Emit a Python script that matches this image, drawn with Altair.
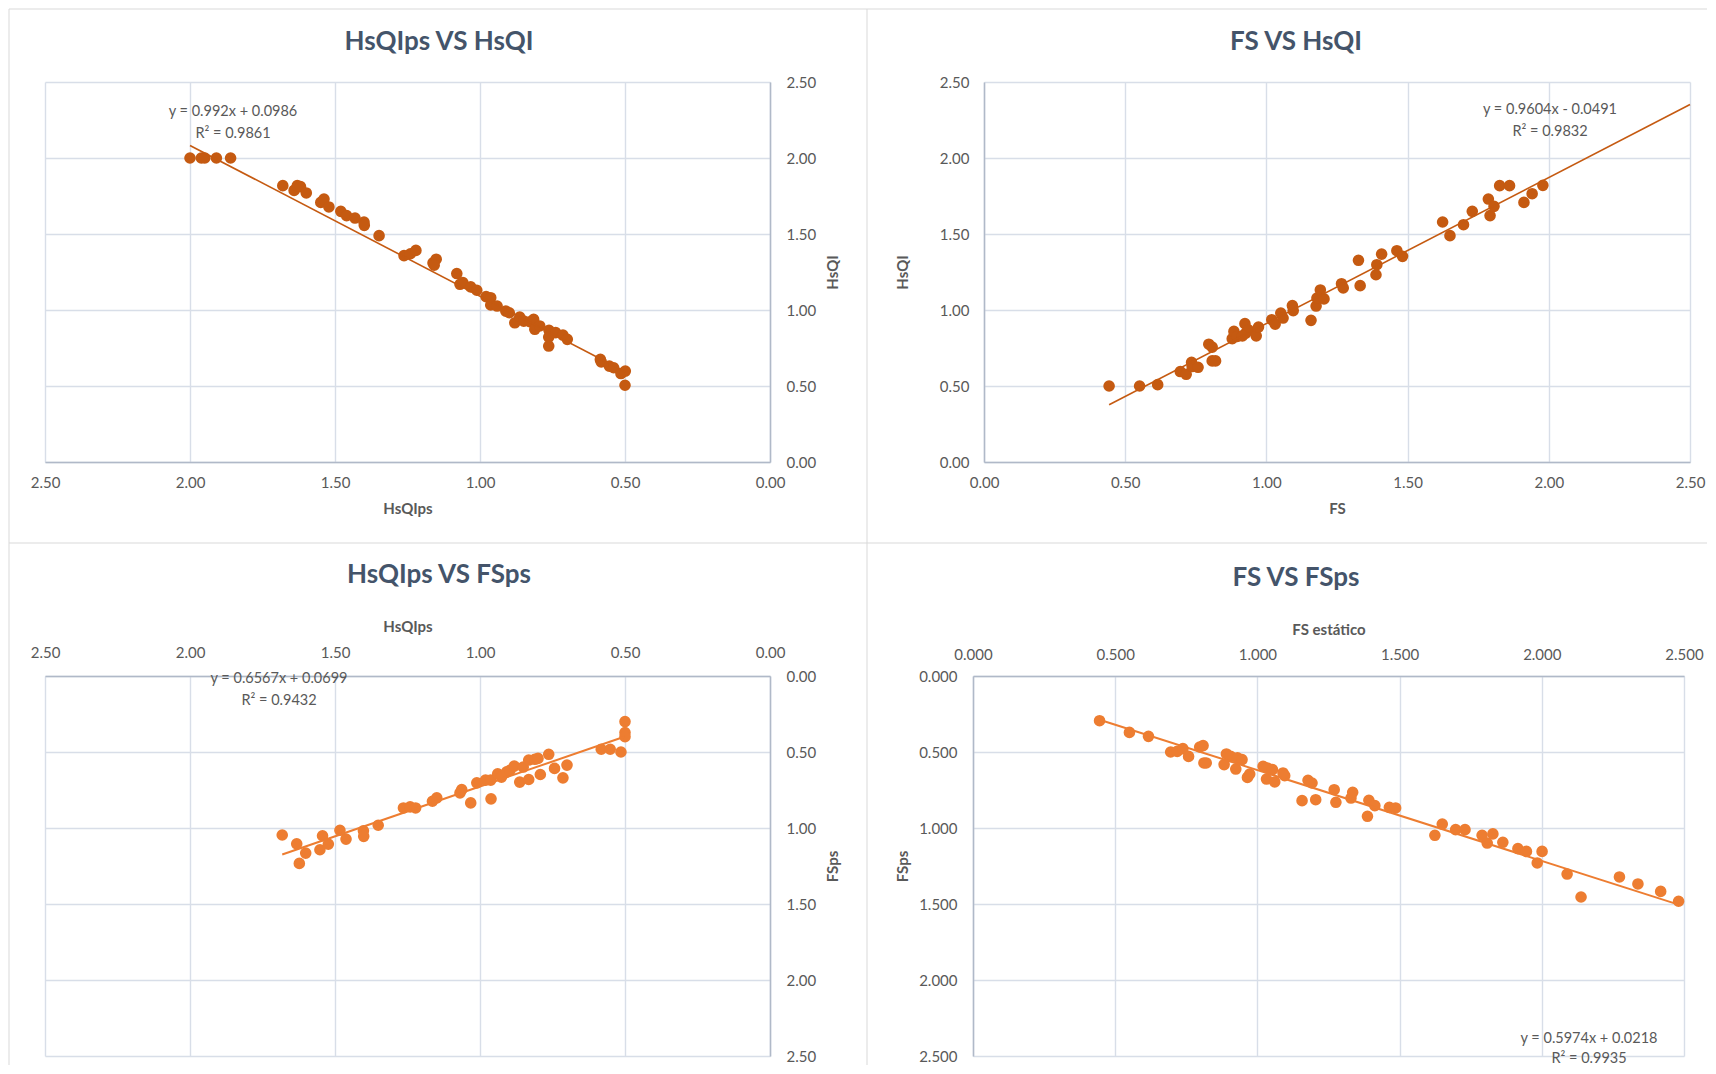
import altair as alt
import pandas as pd

FONT = "Lato"
TICKS = [0.0, 0.5, 1.0, 1.5, 2.0, 2.5]

titles = ["HsQIps VS HsQI", "FS VS HsQI", "HsQIps VS FSps", "FS VS FSps"]
x_titles = ["HsQIps", "FS", "HsQIps", "FS estático"]
y_titles = ["HsQI", "HsQI", "FSps", "FSps"]
slopes = [0.992, 0.9604, 0.6567, 0.5974]
intercepts = [0.0986, -0.0491, 0.0699, 0.0218]
eq_lines = [
    ["y = 0.992x + 0.0986", "R² = 0.9861"],
    ["y = 0.9604x - 0.0491", "R² = 0.9832"],
    ["y = 0.6567x + 0.0699", "R² = 0.9432"],
    ["y = 0.5974x + 0.0218", "R² = 0.9935"],
]
trend_x = [[0.499, 2.0], [0.443, 2.5], [0.5, 1.682], [0.445, 2.481]]

# Panel 1: HsQIps (x) vs HsQI (y)
p1_x = [2.000, 1.961, 1.949, 1.909, 1.860, 1.680, 1.641, 1.630, 1.619, 1.599,
        1.549, 1.538, 1.521, 1.480, 1.460, 1.431, 1.400, 1.399, 1.348, 1.262,
        1.240, 1.221, 1.162, 1.151, 1.158, 1.080, 1.069, 1.059, 1.032, 1.011,
        0.979, 0.963, 0.963, 0.941, 0.911, 0.899, 0.880, 0.863, 0.849, 0.828,
        0.815, 0.811, 0.794, 0.762, 0.763, 0.763, 0.739, 0.714, 0.699, 0.585,
        0.582, 0.554, 0.539, 0.514, 0.499, 0.500]
p1_y = [2.000, 2.000, 2.000, 2.000, 2.000, 1.818, 1.787, 1.818, 1.812, 1.770,
        1.708, 1.730, 1.678, 1.649, 1.621, 1.605, 1.579, 1.557, 1.489, 1.358,
        1.370, 1.392, 1.310, 1.334, 1.295, 1.240, 1.169, 1.180, 1.152, 1.130,
        1.088, 1.081, 1.033, 1.026, 0.993, 0.982, 0.916, 0.954, 0.927, 0.923,
        0.938, 0.873, 0.895, 0.866, 0.822, 0.763, 0.851, 0.835, 0.807, 0.675,
        0.659, 0.631, 0.620, 0.582, 0.598, 0.505]

# Panel 2: FS (x) vs HsQI (y)
p2_x = [0.443, 0.551, 0.615, 0.695, 0.716, 0.735, 0.737, 0.758, 0.796, 0.808,
        0.808, 0.820, 0.879, 0.885, 0.897, 0.924, 0.927, 0.936, 0.915, 0.964,
        0.972, 1.019, 1.031, 1.051, 1.059, 1.092, 1.095, 1.158, 1.176, 1.179,
        1.191, 1.204, 1.266, 1.272, 1.326, 1.332, 1.388, 1.391, 1.408, 1.462,
        1.482, 1.624, 1.650, 1.698, 1.729, 1.786, 1.792, 1.806, 1.826, 1.861,
        1.912, 1.941, 1.979]
p2_y = [0.500, 0.500, 0.509, 0.595, 0.577, 0.656, 0.628, 0.623, 0.775, 0.756,
        0.665, 0.665, 0.811, 0.859, 0.826, 0.910, 0.848, 0.870, 0.830, 0.830,
        0.888, 0.936, 0.907, 0.980, 0.947, 1.029, 0.996, 0.932, 1.026, 1.079,
        1.132, 1.073, 1.173, 1.145, 1.327, 1.160, 1.232, 1.298, 1.368, 1.390,
        1.353, 1.579, 1.489, 1.561, 1.649, 1.730, 1.621, 1.682, 1.818, 1.818,
        1.708, 1.765, 1.820]

# Panel 3: HsQIps (x) vs FSps (y)
p3_x = [1.682, 1.632, 1.601, 1.623, 1.552, 1.543, 1.523, 1.483, 1.462, 1.402,
        1.401, 1.351, 1.264, 1.241, 1.222, 1.164, 1.149, 1.069, 1.063, 1.032,
        1.011, 0.981, 0.963, 0.962, 0.939, 0.926, 0.908, 0.897, 0.882, 0.863,
        0.851, 0.832, 0.832, 0.811, 0.800, 0.792, 0.763, 0.743, 0.714, 0.700,
        0.582, 0.551, 0.514, 0.500, 0.500, 0.500]
p3_y = [1.046, 1.104, 1.165, 1.233, 1.143, 1.051, 1.106, 1.015, 1.073, 1.018,
        1.055, 0.982, 0.868, 0.861, 0.868, 0.824, 0.802, 0.769, 0.747, 0.835,
        0.703, 0.685, 0.685, 0.808, 0.643, 0.665, 0.630, 0.621, 0.593, 0.698,
        0.599, 0.553, 0.681, 0.548, 0.542, 0.648, 0.515, 0.608, 0.670, 0.586,
        0.482, 0.482, 0.500, 0.300, 0.372, 0.399]

# Panel 4: FS estático (x) vs FSps (y)
p4_x = [0.445, 0.550, 0.617, 0.695, 0.718, 0.738, 0.758, 0.797, 0.809, 0.812,
        0.820, 0.883, 0.891, 0.906, 0.924, 0.930, 0.946, 0.965, 0.973, 1.020,
        1.032, 1.035, 1.053, 1.061, 1.090, 1.096, 1.157, 1.178, 1.192, 1.205,
        1.270, 1.276, 1.329, 1.335, 1.387, 1.392, 1.413, 1.464, 1.486, 1.624,
        1.650, 1.697, 1.730, 1.790, 1.808, 1.828, 1.863, 1.916, 1.946, 1.984,
        2.001, 2.089, 2.138, 2.273, 2.338, 2.418, 2.481]
p4_y = [0.294, 0.371, 0.397, 0.500, 0.496, 0.478, 0.529, 0.467, 0.458, 0.572,
        0.572, 0.583, 0.513, 0.529, 0.612, 0.539, 0.550, 0.667, 0.645, 0.594,
        0.678, 0.605, 0.616, 0.697, 0.638, 0.656, 0.820, 0.686, 0.704, 0.814,
        0.748, 0.831, 0.803, 0.765, 0.923, 0.818, 0.853, 0.864, 0.868, 1.048,
        0.974, 1.011, 1.011, 1.048, 1.099, 1.039, 1.094, 1.136, 1.154, 1.230,
        1.154, 1.303, 1.454, 1.322, 1.368, 1.417, 1.482]

DATA = [(p1_x, p1_y), (p2_x, p2_y), (p3_x, p3_y), (p4_x, p4_y)]

FRAME = "#D9D9D9"
DARK = "#C55A11"
LIGHT = "#ED7D31"

# styling / placement of each panel (pixels relative to the plot area)
STYLE = [
    dict(w=725, h=380, xrev=True, yrev=False, xorient="bottom", yorient="right", fmt=".2f",
         color=DARK, lw=1.6, title_xy=(394, -32), eq_xy=[(188, 34), (188, 56)],
         xlp=13, xtp=11, ylp=16, ytp=25,
         hrules=[(-36, 1662, -73)], vrules=[(-36, -73, 461), (822, -73, 461)]),
    dict(w=706, h=380, xrev=False, yrev=False, xorient="bottom", yorient="left", fmt=".2f",
         color=DARK, lw=1.6, title_xy=(312, -32), eq_xy=[(566, 32), (566, 54)],
         xlp=13, xtp=11, ylp=15, ytp=29, hrules=[], vrules=[]),
    dict(w=725, h=380, xrev=True, yrev=True, xorient="top", yorient="right", fmt=".2f",
         color=LIGHT, lw=2, title_xy=(394, -93), eq_xy=[(234, 7), (234, 29)],
         xlp=16, xtp=11, ylp=16, ytp=25,
         hrules=[(-36, 1662, -133)], vrules=[(-36, -133, 389), (822, -133, 389)]),
    dict(w=711, h=380, xrev=False, yrev=True, xorient="top", yorient="left", fmt=".3f",
         color=LIGHT, lw=2, title_xy=(323, -90), eq_xy=[(616, 367), (616, 387)],
         xlp=14, xtp=10, ylp=16, ytp=8, hrules=[], vrules=[]),
]


def panel(i):
    st = STYLE[i]
    xs, ys = DATA[i]
    pts = pd.DataFrame({"x": xs, "y": ys})
    xscale = alt.Scale(domain=[0, 2.5], reverse=st["xrev"], nice=False, zero=False)
    yscale = alt.Scale(domain=[0, 2.5], reverse=st["yrev"], nice=False, zero=False)
    xenc = alt.X("x:Q", scale=xscale,
                 axis=alt.Axis(title=x_titles[i], orient=st["xorient"], values=TICKS,
                               format=st["fmt"], labelPadding=st["xlp"],
                               titlePadding=st["xtp"]))
    yenc = alt.Y("y:Q", scale=yscale,
                 axis=alt.Axis(title=y_titles[i], orient=st["yorient"], values=TICKS,
                               format=st["fmt"], labelPadding=st["ylp"],
                               titlePadding=st["ytp"], titleAngle=270))
    layers = []
    layers.append(
        alt.Chart(pts).mark_circle(size=135, opacity=1, color=st["color"]).encode(x=xenc, y=yenc)
    )
    layers.append(
        alt.Chart(pd.DataFrame({"x": trend_x[i]}))
        .transform_calculate(y=f"datum.x * {slopes[i]} + ({intercepts[i]})")
        .mark_line(color=st["color"], strokeWidth=st["lw"])
        .encode(x=xenc, y=yenc)
    )
    one = alt.Data(values=[{}])
    for (ex, ey), txt in zip(st["eq_xy"], eq_lines[i]):
        layers.append(
            alt.Chart(one).mark_text(text=txt, font=FONT, fontSize=14.5, color="#595959",
                                     align="center", baseline="alphabetic")
            .encode(x=alt.value(ex), y=alt.value(ey))
        )
    tx, ty = st["title_xy"]
    layers.append(
        alt.Chart(one).mark_text(text=titles[i], font=FONT, fontSize=26, fontWeight="bold",
                                 color="#44546A", align="center", baseline="alphabetic")
        .encode(x=alt.value(tx), y=alt.value(ty))
    )
    for (a, b, c) in st["hrules"]:
        layers.append(
            alt.Chart(one).mark_rule(color=FRAME, strokeWidth=1)
            .encode(x=alt.value(a), x2=alt.value(b), y=alt.value(c))
        )
    for (a, c, d) in st["vrules"]:
        layers.append(
            alt.Chart(one).mark_rule(color=FRAME, strokeWidth=1)
            .encode(x=alt.value(a), y=alt.value(c), y2=alt.value(d))
        )
    return alt.layer(*layers).properties(width=st["w"], height=st["h"])


top = alt.hconcat(panel(0), panel(1), spacing=214, bounds="flush")
bottom = alt.hconcat(panel(2), panel(3), spacing=203, bounds="flush")

chart = (
    alt.vconcat(top, bottom, spacing=-2)
    .properties(padding=0, background="white")
    .configure_view(stroke=None)
    .configure_axis(
        labelFont=FONT, labelFontSize=15, labelColor="#595959",
        titleFont=FONT, titleFontSize=15, titleFontWeight="bold", titleColor="#595959",
        gridColor="#D8DEE8", gridWidth=1.4, domainColor="#B0B9C8", domainWidth=1.5,
        ticks=False, tickSize=0, labelFlush=False, labelOverlap=False,
    )
)

chart.save("out.html", embed_options={"renderer": "svg", "actions": False})
